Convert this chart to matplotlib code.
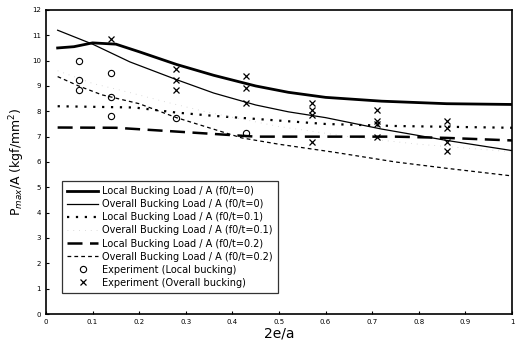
import matplotlib
matplotlib.use("Agg")
import matplotlib.pyplot as plt

# Curves
x_l0 = [0.025, 0.06, 0.1, 0.15, 0.2, 0.28, 0.36, 0.45, 0.52, 0.6, 0.72, 0.86, 1.0]
y_l0 = [10.5, 10.55, 10.7, 10.65, 10.35, 9.85, 9.42, 9.0, 8.75, 8.55, 8.4, 8.3, 8.27]
x_o0 = [0.025, 0.1, 0.18, 0.28, 0.36, 0.45, 0.52, 0.6, 0.72, 0.86, 1.0]
y_o0 = [11.2, 10.65, 9.95, 9.25, 8.72, 8.25, 7.98, 7.75, 7.3, 6.85, 6.45]
x_l1 = [0.025, 0.19, 0.28, 0.36, 0.45, 0.6, 0.75, 1.0]
y_l1 = [8.2, 8.15, 7.95, 7.82, 7.7, 7.5, 7.42, 7.35]
x_o1 = [0.025, 0.1, 0.18, 0.25, 0.35, 0.5, 0.65, 0.8, 1.0]
y_o1 = [9.6, 9.1, 8.74, 8.4, 7.95, 7.4, 7.0, 6.7, 6.4]
x_l2 = [0.025, 0.15, 0.28, 0.45, 0.6, 0.75, 0.86, 1.0]
y_l2 = [7.36, 7.35, 7.2, 7.0, 7.0, 7.0, 6.95, 6.85]
x_o2 = [0.025, 0.07, 0.12, 0.2, 0.28, 0.35, 0.42, 0.5, 0.62, 0.75, 0.86, 1.0]
y_o2 = [9.37, 9.0, 8.65, 8.3, 7.75, 7.35, 6.95, 6.7, 6.38, 6.0, 5.75, 5.45]

# Experiments
x_exp_local = [0.07, 0.07, 0.07, 0.14, 0.14, 0.14, 0.28, 0.43]
y_exp_local = [10.0, 9.25, 8.86, 9.53, 8.58, 7.8, 7.75, 7.15]
x_exp_overall = [0.14, 0.28, 0.28, 0.28, 0.43, 0.43, 0.43,
                 0.57, 0.57, 0.57, 0.57, 0.71, 0.71, 0.71, 0.71,
                 0.86, 0.86, 0.86, 0.86]
y_exp_overall = [10.85, 9.65, 9.25, 8.86, 9.4, 8.93, 8.34,
                 8.34, 8.07, 7.87, 6.77, 8.07, 7.6, 7.48, 7.0,
                 7.6, 7.36, 6.77, 6.42]

labels = [
    "Local Bucking Load / A (f0/t=0)",
    "Overall Bucking Load / A (f0/t=0)",
    "Local Bucking Load / A (f0/t=0.1)",
    "Overall Bucking Load / A (f0/t=0.1)",
    "Local Bucking Load / A (f0/t=0.2)",
    "Overall Bucking Load / A (f0/t=0.2)",
    "Experiment (Local bucking)",
    "Experiment (Overall bucking)",
]

fig = plt.figure(figsize=(5.19, 3.43), dpi=100)
ax = fig.add_axes([0.0886, 0.0845, 0.8979, 0.8865])

ax.plot(x_l0, y_l0, color="black", lw=2.0, label=labels[0])
ax.plot(x_o0, y_o0, color="black", lw=0.9, label=labels[1])
ax.plot(x_l1, y_l1, color="black", lw=1.6, linestyle=(0, (1, 3)), label=labels[2])
ax.plot(x_o1, y_o1, color="#d0d0d0", lw=0.6, linestyle=(0, (1, 6)), label=labels[3])
ax.plot(x_l2, y_l2, color="black", lw=1.8, linestyle=(0, (6, 3)), label=labels[4])
ax.plot(x_o2, y_o2, color="black", lw=0.9, linestyle=(0, (3, 2.5)), label=labels[5])
ax.plot(x_exp_local, y_exp_local, linestyle="none", marker="o", ms=4.5,
        mfc="none", mec="black", mew=0.8, label=labels[6])
ax.plot(x_exp_overall, y_exp_overall, linestyle="none", marker="x", ms=4,
        color="black", mew=0.9, label=labels[7])

ax.set_xlim(0, 1)
ax.set_ylim(0, 12)
ax.set_xticks([0, 0.1, 0.2, 0.3, 0.4, 0.5, 0.6, 0.7, 0.8, 0.9, 1.0])
ax.set_xticklabels(["0", "0.1", "0.2", "0.3", "0.4", "0.5", "0.6", "0.7", "0.8", "0.9", "1"])
ax.set_yticks(range(0, 13))
ax.tick_params(labelsize=5, length=2.5, direction="in", width=0.8)
for s in ax.spines.values():
    s.set_linewidth(1.2)

ax.set_xlabel("2e/a", fontsize=10, labelpad=1)
ax.set_ylabel(r"P$_{max}$/A (kgf/mm$^2$)", fontsize=9, labelpad=4)

leg = ax.legend(loc="lower left", bbox_to_anchor=(0.035, 0.07), fontsize=7,
                frameon=True, fancybox=False, edgecolor="black",
                handlelength=3.2, labelspacing=0.32, borderpad=0.5,
                handletextpad=0.4, borderaxespad=0.0)
leg.get_frame().set_linewidth(0.9)

fig.savefig("out.png", dpi=100)
